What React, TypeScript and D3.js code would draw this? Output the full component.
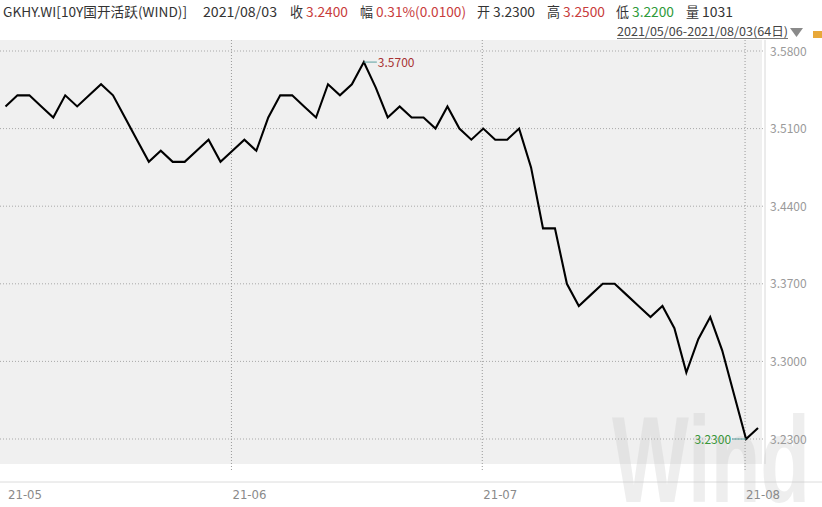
import React from "react";
import * as d3 from "d3";

const values: number[] = [
  3.53, 3.54, 3.54, 3.53, 3.52, 3.54, 3.53, 3.54, 3.55, 3.54,
  3.52, 3.50, 3.48, 3.49, 3.48, 3.48, 3.49, 3.50, 3.48, 3.49,
  3.50, 3.49, 3.52, 3.54, 3.54, 3.53, 3.52, 3.55, 3.54, 3.55,
  3.57, 3.547, 3.52, 3.53, 3.52, 3.52, 3.51, 3.53, 3.51, 3.50,
  3.51, 3.50, 3.50, 3.51, 3.475, 3.42, 3.42, 3.37, 3.35, 3.36,
  3.37, 3.37, 3.36, 3.35, 3.34, 3.35, 3.33, 3.29, 3.32, 3.34,
  3.31, 3.27, 3.23, 3.24,
];
const monthLabels = ["21-05", "21-06", "21-07", "21-08"];
const monthStartIdx = [0, 19, 40, 62];
const yTicks = [3.58, 3.51, 3.44, 3.37, 3.3, 3.23];

const headerItems: { text: string; x: number; color: string; w: number }[] = [
  { text: "GKHY.WI[10Y国开活跃(WIND)]", x: 3, color: "#333", w: 184 },
  { text: "2021/08/03", x: 203, color: "#333", w: 74 },
  { text: "收", x: 290, color: "#333", w: 13 },
  { text: "3.2400", x: 306, color: "#c83c3c", w: 42 },
  { text: "幅", x: 360, color: "#333", w: 13 },
  { text: "0.31%(0.0100)", x: 376, color: "#c83c3c", w: 90 },
  { text: "开", x: 477, color: "#333", w: 13 },
  { text: "3.2300", x: 493, color: "#333", w: 42 },
  { text: "高", x: 547, color: "#333", w: 13 },
  { text: "3.2500", x: 563, color: "#c83c3c", w: 42 },
  { text: "低", x: 616, color: "#333", w: 13 },
  { text: "3.2200", x: 632, color: "#2e9a3a", w: 42 },
  { text: "量", x: 686, color: "#333", w: 13 },
  { text: "1031", x: 702, color: "#333", w: 31 },
];
const rangeLabel = "2021/05/06-2021/08/03(64日)";

const W = 822;
const H = 507;
const plotLeft = 0;
const plotRight = 762;
const plotTop = 40;
const plotBottom = 464;
const axisLineX = 765;

export default function App() {
  const x = d3.scaleLinear().domain([0, values.length - 1]).range([5.5, 758]);
  const y = d3.scaleLinear().domain([3.23, 3.58]).range([439, 51]);
  const line = d3
    .line<number>()
    .x((_, i) => x(i))
    .y((d) => y(d));

  const maxIdx = d3.maxIndex(values);
  const minIdx = d3.minIndex(values);
  const font = "'Noto Sans CJK SC', 'Noto Sans', sans-serif";

  return (
    <svg
      width={W}
      height={H}
      style={{ position: "absolute", left: 0, top: 0, background: "#fff" }}
      fontFamily={font}
    >
      <rect x={0} y={0} width={W} height={H} fill="#fff" />
      {/* plot background */}
      <rect
        x={plotLeft}
        y={plotTop}
        width={plotRight - plotLeft}
        height={plotBottom - plotTop}
        fill="#f0f0f0"
      />
      <line x1={axisLineX} x2={axisLineX} y1={plotTop} y2={plotBottom} stroke="#d8d8d8" />
      <line x1={0} x2={W} y1={482} y2={482} stroke="#dcdcdc" />

      {/* watermark */}
      <text
        x={612}
        y={502}
        fontSize={122}
        fontWeight="bold"
        fontFamily="'Liberation Sans Narrow', 'Liberation Sans', Arial, sans-serif"
        fill="#c8c8c8"
        opacity={0.3}
        textLength={198}
        lengthAdjust="spacingAndGlyphs"
      >
        Wind
      </text>

      {/* horizontal grid */}
      {yTicks.map((t) => (
        <g key={t}>
          <line
            x1={0}
            x2={axisLineX}
            y1={y(t)}
            y2={y(t)}
            stroke="#a8a8a8"
            strokeDasharray="1,2"
          />
          <text x={770} y={y(t) + 4.5} fontSize={12} fill="#9a9a9a">
            {t.toFixed(4)}
          </text>
        </g>
      ))}

      {/* month grid */}
      {monthStartIdx.map((idx, k) => (
        <g key={idx}>
          {k > 0 && (
            <line
              x1={x(idx) - 1}
              x2={x(idx) - 1}
              y1={plotTop}
              y2={470}
              stroke="#999"
              strokeDasharray="1,2"
            />
          )}
          <text
            x={k === 0 ? 8 : x(idx)}
            y={499}
            fontSize={12}
            fill="#8a8a8a"
            fontFamily="'DejaVu Sans Condensed', 'Liberation Sans Narrow', sans-serif"
            textLength={34}
            lengthAdjust="spacingAndGlyphs"
          >
            {monthLabels[k]}
          </text>
        </g>
      ))}

      {/* price line */}
      <path d={line(values) || ""} fill="none" stroke="#000" strokeWidth={2.1} strokeLinejoin="miter" />

      {/* max annotation */}
      <line
        x1={x(maxIdx)}
        x2={x(maxIdx) + 13}
        y1={y(values[maxIdx])}
        y2={y(values[maxIdx])}
        stroke="#5aa0a0"
        strokeWidth={1}
      />
      <text x={x(maxIdx) + 14} y={y(values[maxIdx]) + 4.5} fontSize={12} fill="#a83232">
        {values[maxIdx].toFixed(4)}
      </text>

      {/* min annotation */}
      <line
        x1={x(minIdx) - 14}
        x2={x(minIdx)}
        y1={y(values[minIdx])}
        y2={y(values[minIdx])}
        stroke="#5aa0a0"
        strokeWidth={1}
      />
      <text
        x={x(minIdx) - 15}
        y={y(values[minIdx]) + 4.5}
        fontSize={12}
        fill="#3a963a"
        textAnchor="end"
      >
        {values[minIdx].toFixed(4)}
      </text>

      {/* header */}
      {headerItems.map((h, i) => (
        <text
          key={i}
          x={h.x}
          y={17}
          fontSize={13.5}
          fill={h.color}
          textLength={h.w}
          lengthAdjust="spacingAndGlyphs"
        >
          {h.text}
        </text>
      ))}
      <text
        x={617}
        y={36}
        fontSize={12}
        fill="#444"
        textLength={171}
        lengthAdjust="spacingAndGlyphs"
      >
        {rangeLabel}
      </text>
      <line x1={617} x2={788} y1={38.5} y2={38.5} stroke="#555" strokeWidth={0.8} />
      <path d="M790,28 L803,28 L796.5,37 Z" fill="#8a8a8a" />
      <rect x={813} y={31} width={9} height={7} fill="#e8a838" />
    </svg>
  );
}
